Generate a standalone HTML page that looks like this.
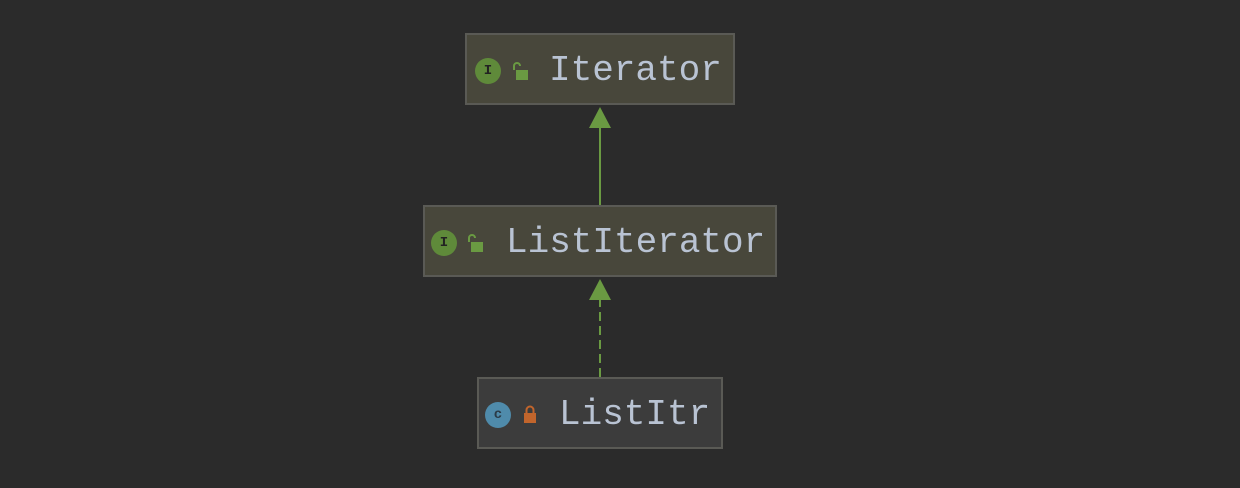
<!DOCTYPE html>
<html><head><style>
body{margin:0;width:1240px;height:488px;background:#2b2b2b;position:relative;overflow:hidden;font-family:"Liberation Mono",monospace}
.b{position:absolute;box-sizing:border-box;border:2px solid #5a5a55;background:#48473b;display:flex;align-items:center}
.t{color:#b9c3d3;font-size:36px;position:absolute;top:15px}
.ic{position:absolute;width:26px;height:26px;border-radius:50%;background:#5f8a3a;color:#222;font-size:14px;font-weight:bold;text-align:center;line-height:26px;top:23px}
</style></head><body>
<svg width="1240" height="488" style="position:absolute;left:0;top:0">
<line x1="600" y1="126" x2="600" y2="205" stroke="#6a9a42" stroke-width="2"/>
<polygon points="600,107 589,128 611,128" fill="#6a9a42"/>
<line x1="600" y1="298" x2="600" y2="377" stroke="#6a9a42" stroke-width="2" stroke-dasharray="9,5"/>
<polygon points="600,279 589,300 611,300" fill="#6a9a42"/>
</svg>
<div class="b" style="left:465px;top:33px;width:270px;height:72px">
<div class="ic" style="left:8px">I</div>
<svg style="position:absolute;left:44px;top:26px" width="18" height="20"><path d="M3 9 V5 a3 3 0 0 1 6 0" stroke="#6a9a42" stroke-width="2" fill="none"/><rect x="5" y="9" width="12" height="10" fill="#6a9a42"/></svg>
<div class="t" style="left:82px">Iterator</div></div>
<div class="b" style="left:423px;top:205px;width:354px;height:72px">
<div class="ic" style="left:6px">I</div>
<svg style="position:absolute;left:41px;top:26px" width="18" height="20"><path d="M3 9 V5 a3 3 0 0 1 6 0" stroke="#6a9a42" stroke-width="2" fill="none"/><rect x="5" y="9" width="12" height="10" fill="#6a9a42"/></svg>
<div class="t" style="left:81px">ListIterator</div></div>
<div class="b" style="left:477px;top:377px;width:246px;height:72px;background:#3c3c3c">
<div class="ic" style="left:6px;background:#4f8bab;color:#2b3b47">c</div>
<svg style="position:absolute;left:44px;top:25px" width="14" height="20"><path d="M3.5 9 V6 a3.5 3.5 0 0 1 7 0 V9" stroke="#c2652c" stroke-width="2" fill="none"/><rect x="1" y="9" width="12" height="10" fill="#c2652c"/></svg>
<div class="t" style="left:80px">ListItr</div></div>
</body></html>
